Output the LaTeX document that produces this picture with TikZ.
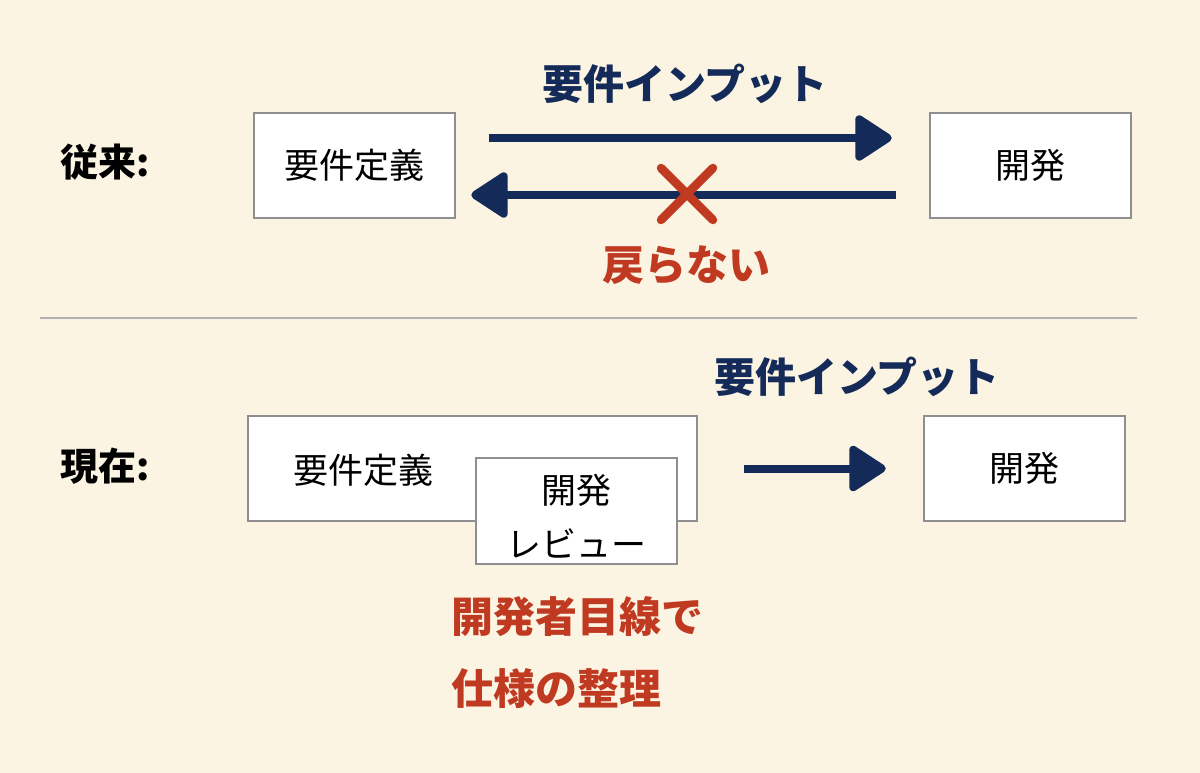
\documentclass[tikz,border=0pt]{standalone}
\usepackage{fontspec}
\setmainfont{Noto Sans CJK JP}
\usetikzlibrary{arrows.meta}
\definecolor{bg}{HTML}{FCF4E3}
\definecolor{navy}{HTML}{142A58}
\definecolor{redc}{HTML}{C03A22}
\definecolor{boxgray}{HTML}{8E8E93}
\definecolor{sepgray}{HTML}{B0B0B0}
\tikzset{
  box/.style={draw=boxgray, line width=2.5pt, fill=white, inner sep=0pt},
  body/.style={font=\fontsize{35}{42}\selectfont, text=black},
  title/.style={font=\fontsize{41}{48}\selectfont\bfseries, text=navy},
  redtxt/.style={font=\fontsize{42}{50}\selectfont\bfseries, text=redc},
  label/.style={font=\fontsize{38}{46}\selectfont\bfseries, text=black},
  crayon/.style={draw=navy, line width=8pt, -{Triangle[length=40pt,width=50pt,round]}},
}
\begin{document}
\begin{tikzpicture}[x=1pt,y=-1pt]
\fill[bg] (0,0) rectangle (1200,773);
\useasboundingbox (0,0) rectangle (1200,773);

% --- top section
\node[label] (old) at (105,162) {従来:};
\node[box, minimum width=201pt, minimum height=105pt] (req1) at (354.5,165.5) {};
\node[body] (req1t) at (req1.center) {要件定義};
\node[box, minimum width=201pt, minimum height=105pt] (dev1) at (1030.5,165.5) {};
\node[body] (dev1t) at (dev1.center) {開発};

\coordinate (a1s) at ([xshift=33pt,yshift=27.5pt]req1.east);
\coordinate (a1e) at ([xshift=-37pt,yshift=27.5pt]dev1.west);
\draw[crayon] (a1s) -- (a1e);
\node[title] (in1) at (685,84) {要件インプット};

\coordinate (a2s) at ([xshift=-33pt,yshift=-29.5pt]dev1.west);
\coordinate (a2e) at ([xshift=15pt,yshift=-29.5pt]req1.east);
\draw[crayon] (a2s) -- (a2e);

\coordinate (xc) at (687,194);
\draw[redc, line width=8.5pt, line cap=round] ([xshift=-26pt,yshift=-26pt]xc) -- ([xshift=26pt,yshift=26pt]xc);
\draw[redc, line width=8.5pt, line cap=round] ([xshift=26pt,yshift=-26pt]xc) -- ([xshift=-26pt,yshift=26pt]xc);
\node[redtxt] (back) at (686,265) {戻らない};

% separator
\coordinate (sepL) at (40,318);
\coordinate (sepR) at (1137,318);
\draw[sepgray, line width=2pt] (sepL) -- (sepR);

% --- bottom section
\node[label] (now) at (105,466) {現在:};
\node[box, minimum width=449pt, minimum height=105pt] (req2) at (472.5,468.5) {};
\node[body] (req2t) at (363,470) {要件定義};
\node[box, minimum width=201pt, minimum height=106pt] (rev) at (576.5,511) {};
\node[body] (revt1) at (576.5,490) {開発};
\node[body] (revt2) at (576.5,543) {レビュー};
\node[box, minimum width=201pt, minimum height=105pt] (dev2) at (1024.5,468.5) {};
\node[body] (dev2t) at (dev2.center) {開発};

\coordinate (a3s) at ([xshift=46pt]req2.east);
\coordinate (a3e) at ([xshift=-37pt]dev2.west);
\draw[crayon] (a3s) -- (a3e);
\node[title] (in2) at (857,377) {要件インプット};

\node[redtxt, anchor=west] (r1) at (448,617) {開発者目線で};
\node[redtxt, anchor=west] (r2) at (448,689) {仕様の整理};
\end{tikzpicture}
\end{document}
